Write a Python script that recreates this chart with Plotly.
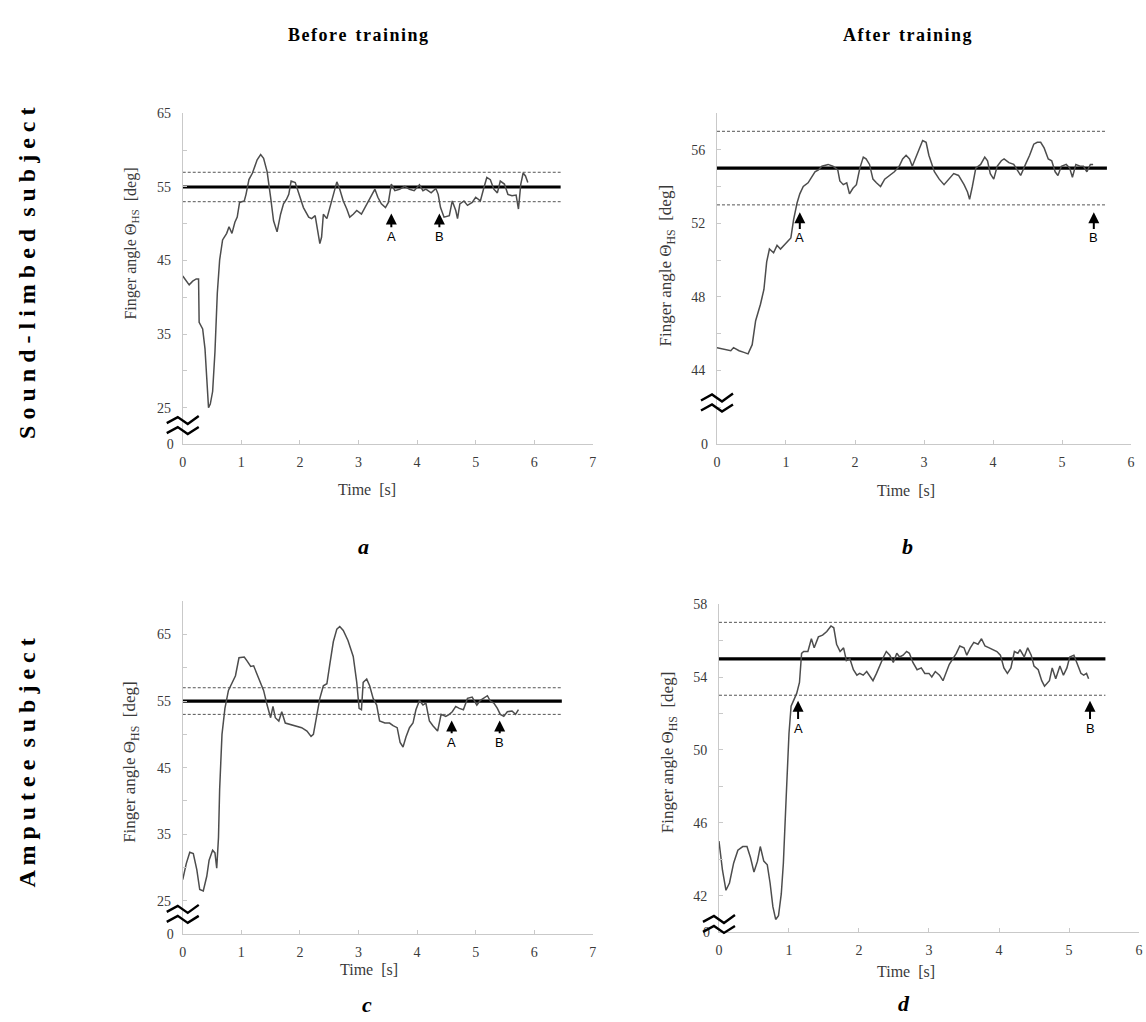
import plotly.graph_objects as go

# ---------------- data ----------------
# Panel a: sound-limbed subject, before training
t_a = [0, 0.11, 0.17, 0.23, 0.27, 0.28, 0.34, 0.38, 0.41, 0.44, 0.47, 0.51, 0.55, 0.59, 0.63, 0.68,
       0.75, 0.79, 0.84, 0.89, 0.93, 0.97, 1.05, 1.08, 1.13, 1.19, 1.27, 1.33, 1.38, 1.44, 1.50, 1.55,
       1.61, 1.67, 1.72, 1.77, 1.81, 1.85, 1.92, 1.99, 2.06, 2.15, 2.20, 2.26, 2.31, 2.34, 2.37, 2.40,
       2.46, 2.51, 2.57, 2.63, 2.68, 2.74, 2.80, 2.85, 2.91, 2.97, 3.05, 3.11, 3.16, 3.22, 3.28, 3.33,
       3.39, 3.46, 3.51, 3.56, 3.62, 3.70, 3.79, 3.87, 3.95, 4.04, 4.10, 4.15, 4.24, 4.32, 4.36, 4.40,
       4.46, 4.55, 4.60, 4.66, 4.69, 4.73, 4.80, 4.86, 4.94, 5.00, 5.08, 5.14, 5.19, 5.25, 5.31, 5.37,
       5.42, 5.49, 5.55, 5.62, 5.69, 5.73, 5.77, 5.81, 5.85, 5.89]
y_a = [42.9, 41.7, 42.2, 42.5, 42.5, 36.6, 35.7, 33.0, 29.0, 25.0, 25.5, 27.2, 32.6, 40.6, 45.1, 47.8,
       48.7, 49.6, 48.7, 50.2, 50.9, 52.9, 53.1, 54.0, 56.0, 56.9, 58.7, 59.4, 58.9, 57.1, 53.6, 50.4,
       48.9, 51.3, 52.7, 53.3, 54.0, 55.8, 55.6, 54.0, 52.2, 50.9, 50.7, 51.1, 48.7, 47.3, 48.2, 51.3,
       50.7, 52.2, 54.0, 55.7, 54.7, 53.1, 52.0, 50.9, 51.3, 51.8, 51.3, 52.2, 53.1, 54.0, 54.7, 53.6,
       52.7, 52.2, 52.9, 55.4, 54.5, 54.7, 55.1, 54.7, 54.5, 55.3, 54.5, 54.7, 54.2, 54.8, 54.0, 52.2,
       50.9, 51.1, 53.1, 51.8, 50.7, 52.7, 53.1, 52.5, 52.9, 53.6, 53.1, 54.9, 56.3, 56.0, 54.7, 54.2,
       55.8, 55.4, 54.0, 53.8, 53.9, 52.0, 55.4, 56.9, 56.5, 55.6]

# Panel b: sound-limbed subject, after training
t_b = [0.0, 0.12, 0.20, 0.24, 0.32, 0.39, 0.45, 0.51, 0.56, 0.63, 0.68, 0.72, 0.76, 0.82, 0.87, 0.92,
       0.99, 1.04, 1.07, 1.11, 1.16, 1.20, 1.25, 1.32, 1.37, 1.42, 1.47, 1.52, 1.61, 1.68, 1.75, 1.78,
       1.83, 1.88, 1.92, 1.97, 2.02, 2.07, 2.12, 2.16, 2.21, 2.26, 2.31, 2.37, 2.43, 2.50, 2.57, 2.64,
       2.69, 2.74, 2.79, 2.83, 2.88, 2.93, 2.98, 3.03, 3.07, 3.15, 3.22, 3.29, 3.36, 3.43, 3.50, 3.58,
       3.63, 3.66, 3.70, 3.75, 3.82, 3.88, 3.92, 3.96, 4.01, 4.06, 4.12, 4.16, 4.23, 4.30, 4.35, 4.40,
       4.47, 4.53, 4.59, 4.64, 4.69, 4.74, 4.80, 4.85, 4.90, 4.94, 4.99, 5.06, 5.11, 5.15, 5.20, 5.26,
       5.31, 5.36, 5.41, 5.45]
y_b = [45.24, 45.15, 45.07, 45.24, 45.07, 44.98, 44.9, 45.4, 46.7, 47.6, 48.4, 49.9, 50.6, 50.4, 50.8,
       50.6, 50.9, 51.1, 51.2, 52.2, 53.1, 53.6, 54.0, 54.2, 54.5, 54.8, 54.9, 55.1, 55.2, 55.1, 54.9,
       54.3, 54.1, 54.2, 53.6, 53.9, 54.1, 55.0, 55.6, 55.5, 55.2, 54.4, 54.2, 54.0, 54.4, 54.6, 54.8,
       55.1, 55.5, 55.7, 55.5, 55.1, 55.6, 56.1, 56.5, 56.4, 55.7, 54.8, 54.4, 54.1, 54.4, 54.7, 54.6,
       54.1, 53.7, 53.3, 54.0, 55.0, 55.2, 55.6, 55.4, 54.7, 54.4, 55.1, 55.4, 55.5, 55.3, 55.2, 54.9,
       54.6, 55.2, 55.7, 56.3, 56.4, 56.4, 56.1, 55.5, 55.4, 54.8, 54.6, 55.1, 55.2, 55.0, 54.5, 55.2,
       55.1, 55.1, 54.8, 55.2, 55.2]

# Panel c: amputee subject, before training
t_c = [0, 0.06, 0.12, 0.18, 0.24, 0.29, 0.35, 0.41, 0.45, 0.51, 0.55, 0.58, 0.61, 0.63, 0.67, 0.72,
       0.78, 0.85, 0.90, 0.96, 1.05, 1.10, 1.16, 1.21, 1.27, 1.33, 1.38, 1.44, 1.50, 1.54, 1.58, 1.64,
       1.69, 1.75, 1.84, 1.92, 2.03, 2.12, 2.19, 2.23, 2.29, 2.34, 2.40, 2.46, 2.51, 2.57, 2.63, 2.68,
       2.74, 2.82, 2.91, 2.97, 3.01, 3.05, 3.08, 3.14, 3.19, 3.25, 3.31, 3.36, 3.45, 3.53, 3.59, 3.66,
       3.71, 3.76, 3.81, 3.87, 3.93, 3.98, 4.04, 4.10, 4.15, 4.21, 4.27, 4.35, 4.41, 4.49, 4.55, 4.60,
       4.66, 4.72, 4.79, 4.86, 4.94, 5.02, 5.08, 5.14, 5.20, 5.25, 5.31, 5.37, 5.42, 5.48, 5.54, 5.62,
       5.68, 5.73]
y_c = [28.2, 30.6, 32.3, 32.1, 29.7, 26.7, 26.5, 28.7, 31.1, 32.6, 32.2, 29.9, 34.5, 41.8, 50.0, 53.9,
       56.6, 57.8, 58.8, 61.5, 61.6, 61.0, 60.2, 60.3, 59.0, 57.8, 56.6, 54.4, 52.5, 54.2, 52.5, 52.0,
       53.4, 51.7, 51.5, 51.3, 51.0, 50.5, 49.7, 50.0, 53.0, 55.4, 57.3, 57.6, 60.5, 63.9, 65.8, 66.2,
       65.6, 64.1, 61.7, 57.8, 53.9, 53.7, 57.8, 58.3, 57.3, 55.4, 54.4, 52.0, 51.7, 51.7, 51.3, 51.0,
       48.8, 48.1, 49.6, 51.0, 51.7, 53.7, 55.1, 54.4, 54.7, 52.0, 51.3, 50.5, 53.0, 52.7, 53.0, 53.4,
       54.2, 53.9, 53.7, 55.4, 55.6, 54.4, 55.1, 55.4, 55.8, 55.0, 54.7, 53.9, 53.0, 52.7, 53.4, 53.5,
       53.0, 53.7]

# Panel d: amputee subject, after training
t_d = [0, 0.05, 0.10, 0.15, 0.21, 0.27, 0.34, 0.40, 0.45, 0.50, 0.55, 0.59, 0.64, 0.69, 0.73, 0.77,
       0.81, 0.85, 0.89, 0.92, 0.96, 1.00, 1.03, 1.07, 1.11, 1.15, 1.18, 1.21, 1.27, 1.32, 1.36, 1.42,
       1.48, 1.54, 1.60, 1.64, 1.68, 1.73, 1.78, 1.82, 1.87, 1.92, 1.97, 2.01, 2.06, 2.11, 2.16, 2.20,
       2.25, 2.30, 2.35, 2.39, 2.44, 2.49, 2.54, 2.58, 2.63, 2.68, 2.72, 2.77, 2.83, 2.89, 2.94, 3.00,
       3.04, 3.09, 3.15, 3.20, 3.25, 3.29, 3.34, 3.39, 3.44, 3.50, 3.54, 3.59, 3.64, 3.70, 3.75, 3.80,
       3.86, 3.92, 3.97, 4.02, 4.07, 4.12, 4.17, 4.22, 4.27, 4.30, 4.36, 4.41, 4.46, 4.50, 4.56, 4.61,
       4.65, 4.72, 4.76, 4.81, 4.87, 4.92, 4.97, 5.01, 5.07, 5.12, 5.17, 5.21, 5.25, 5.28]
y_d = [45.0, 43.4, 42.3, 42.7, 43.8, 44.5, 44.7, 44.7, 44.1, 43.3, 43.9, 44.7, 43.9, 43.7, 42.7, 41.4,
       40.7, 40.9, 42.1, 43.8, 47.4, 50.9, 52.4, 52.8, 53.1, 53.7, 55.3, 55.4, 55.4, 56.1, 55.6, 56.2,
       56.3, 56.5, 56.8, 56.7, 55.8, 55.4, 55.6, 54.9, 55.0, 54.4, 54.1, 54.2, 54.1, 54.3, 54.0, 53.8,
       54.2, 54.7, 55.1, 55.4, 55.2, 54.8, 55.3, 55.1, 55.2, 55.4, 55.3, 54.8, 54.4, 54.5, 54.2, 54.2,
       54.0, 54.3, 54.1, 53.8, 54.3, 54.7, 55.0, 55.3, 55.7, 55.6, 55.2, 55.6, 55.9, 55.8, 56.1, 55.7,
       55.6, 55.5, 55.4, 55.2, 54.5, 54.2, 54.5, 55.4, 55.3, 55.5, 55.1, 55.6, 55.2, 54.6, 54.4, 53.8,
       53.5, 53.8, 54.5, 53.9, 54.6, 54.1, 54.5, 55.1, 55.2, 54.7, 54.2, 54.1, 54.2, 53.9]

target = 55.0
band = [53.0, 57.0]
line_end = {"a": 6.45, "b": 5.65, "c": 6.47, "d": 5.52}

arrow_t = {"a": [3.56, 4.38], "b": [1.20, 5.46], "c": [4.59, 5.41], "d": [1.13, 5.30]}
arrow_tip = {"a": 51.4, "b": 52.6, "c": 52.1, "d": 52.7}
arrow_lbl = {"a": 48.3, "b": 51.2, "c": 48.8, "d": 51.2}
arrow_text = ["A", "B"]

series = {"a": (t_a, y_a), "b": (t_b, y_b), "c": (t_c, y_c), "d": (t_d, y_d)}

yticks = {"a": [25, 35, 45, 55, 65], "b": [44, 48, 52, 56], "c": [25, 35, 45, 55, 65],
          "d": [42, 46, 50, 54, 58]}
yranges = {"a": [20, 65], "b": [40, 58], "c": [20, 70], "d": [40, 58]}
yminor = {"a": 5, "b": 2, "c": 5, "d": 2}
xranges = {"a": [0, 7], "b": [0, 6], "c": [0, 7], "d": [0, 6]}
break_y = {"a": 22.5, "b": 42.2, "c": 22.9, "d": 40.4}

col_titles = ["Before training", "After training"]
row_titles = ["Sound-limbed subject", "Amputee subject"]
y_title = "Finger angle Θ<sub>HS</sub>  [deg]"
x_title = "Time  [s]"

# ---------------- layout geometry ----------------
W, H = 1146, 1022
px = {  # x0, x1, ytop, ybottom in pixels
    "a": (180, 593, 108, 444),
    "b": (718, 1135, 107.5, 443.5),
    "c": (180, 593, 603, 941),
    "d": (720, 1143, 606, 939),
}
xt = {"a": (366, 490), "b": (908, 491), "c": (368, 977), "d": (908, 979)}
lt = {"a": (362, 548), "b": (910, 548), "c": (366, 1012), "d": (906, 1011)}
ytt = {"a": (128, 240), "b": (668, 262), "c": (128, 766), "d": (670, 756)}
ytsize = {"a": 16, "b": 17, "c": 17, "d": 17}

SERIF = "Liberation Serif, Times New Roman, serif"
SANS = "Liberation Sans, Arial, sans-serif"
AXC = "#c9c9c9"
TXT = "#3a3a3a"

fig = go.Figure()
layout = dict(width=W, height=H, margin=dict(l=0, r=0, t=0, b=0),
              paper_bgcolor="white", plot_bgcolor="white", showlegend=False)
annotations = []
shapes = []


def paper_text(x, y, text, size, color="black", angle=0, family=SERIF):
    return dict(x=x / W, y=1 - y / H, xref="paper", yref="paper", xanchor="center", yanchor="middle",
                text=text, textangle=angle, showarrow=False, font=dict(family=family, size=size, color=color))


for i, key in enumerate(["a", "b", "c", "d"]):
    n = i + 1
    xs = "" if n == 1 else str(n)
    x0, x1, yt, yb = px[key]
    xd = [x0 / W, x1 / W]
    yd = [1 - yb / H, 1 - yt / H]
    t, y = series[key]
    xa, ya = "x" + xs, "y" + xs

    # reference lines
    for b in band:
        fig.add_trace(go.Scatter(x=[0, line_end[key]], y=[b, b], mode="lines", xaxis=xa, yaxis=ya,
                                 line=dict(color="#555555", width=1, dash="3px,2px"), hoverinfo="skip"))
    fig.add_trace(go.Scatter(x=[0, line_end[key]], y=[target, target], mode="lines", xaxis=xa, yaxis=ya,
                             line=dict(color="black", width=3.2), hoverinfo="skip"))
    # measured trace
    fig.add_trace(go.Scatter(x=t, y=y, mode="lines", xaxis=xa, yaxis=ya,
                             line=dict(color="#4d4d4d", width=1.5)))

    layout["xaxis" + xs] = dict(
        domain=xd, anchor=ya, range=xranges[key], dtick=1, tick0=0,
        showgrid=False, zeroline=False, showline=True, linecolor=AXC, linewidth=1,
        ticks="inside", ticklen=4, tickcolor=AXC, ticklabelstandoff=5,
        tickfont=dict(family=SERIF, size=14, color=TXT))
    layout["yaxis" + xs] = dict(
        domain=yd, anchor=xa, range=yranges[key], tickvals=yticks[key],
        showgrid=False, zeroline=False, showline=True, linecolor=AXC, linewidth=1,
        ticks="inside", ticklen=4, tickcolor=AXC, ticklabelstandoff=8,
        minor=dict(ticks="inside", ticklen=4, tickcolor=AXC, dtick=yminor[key], tick0=0),
        tickfont=dict(family=SERIF, size=14, color=TXT))
    # overlay axis carrying the "0" below the axis break
    on = str(n + 4)
    layout["yaxis" + on] = dict(
        overlaying=ya, anchor=xa, side="left", range=[0, 1], tickvals=[0], ticktext=["0"],
        showgrid=False, zeroline=False, showline=False, ticks="", ticklabelstandoff=8,
        tickfont=dict(family=SERIF, size=14, color=TXT))
    fig.add_trace(go.Scatter(x=[None], y=[None], xaxis=xa, yaxis="y" + on, showlegend=False))

    # break marks on the y axis (domain-referenced so they are not clipped)
    r0, r1 = yranges[key]
    frac = (break_y[key] - r0) / (r1 - r0)
    for path in ["M -16,3 L -5,9 L 5,2 L 16,10", "M -16,-7 L -5,-1 L 5,-8 L 16,-1"]:
        shapes.append(dict(type="path", xref=xa + " domain", yref=ya + " domain",
                           xsizemode="pixel", ysizemode="pixel",
                           xanchor=0, yanchor=frac, path=path,
                           line=dict(color="black", width=2.4)))

    # A / B arrows
    for k, lbl in enumerate(arrow_text):
        at = arrow_t[key][k]
        annotations.append(dict(x=at, y=arrow_tip[key], ax=at, ay=arrow_lbl[key], xref=xa, yref=ya,
                                axref=xa, ayref=ya, text=lbl, showarrow=True, arrowhead=2,
                                arrowsize=1.1, arrowwidth=2, arrowcolor="black", standoff=0,
                                font=dict(family=SANS, size=13, color="black")))

    annotations.append(paper_text(ytt[key][0], ytt[key][1], y_title, ytsize[key], TXT, -90))
    annotations.append(paper_text(xt[key][0], xt[key][1], x_title, 16, TXT))
    annotations.append(paper_text(lt[key][0], lt[key][1], "<b><i>" + key + "</i></b>", 22))


def spaced(s, sep):
    return sep.join(list(s)).replace(sep + " " + sep, "\u2002")


for txt, cx in zip(col_titles, [356, 910]):
    annotations.append(paper_text(cx, 28, "<b>" + spaced(txt, "\u200a") + "</b>", 18))
for txt, cy in zip(row_titles, [270, 767]):
    annotations.append(paper_text(23, cy, "<b>" + spaced(txt, " ") + "</b>", 24, angle=-90))

layout["annotations"] = annotations
layout["shapes"] = shapes
fig.update_layout(**layout)
fig.write_html("out.html")
